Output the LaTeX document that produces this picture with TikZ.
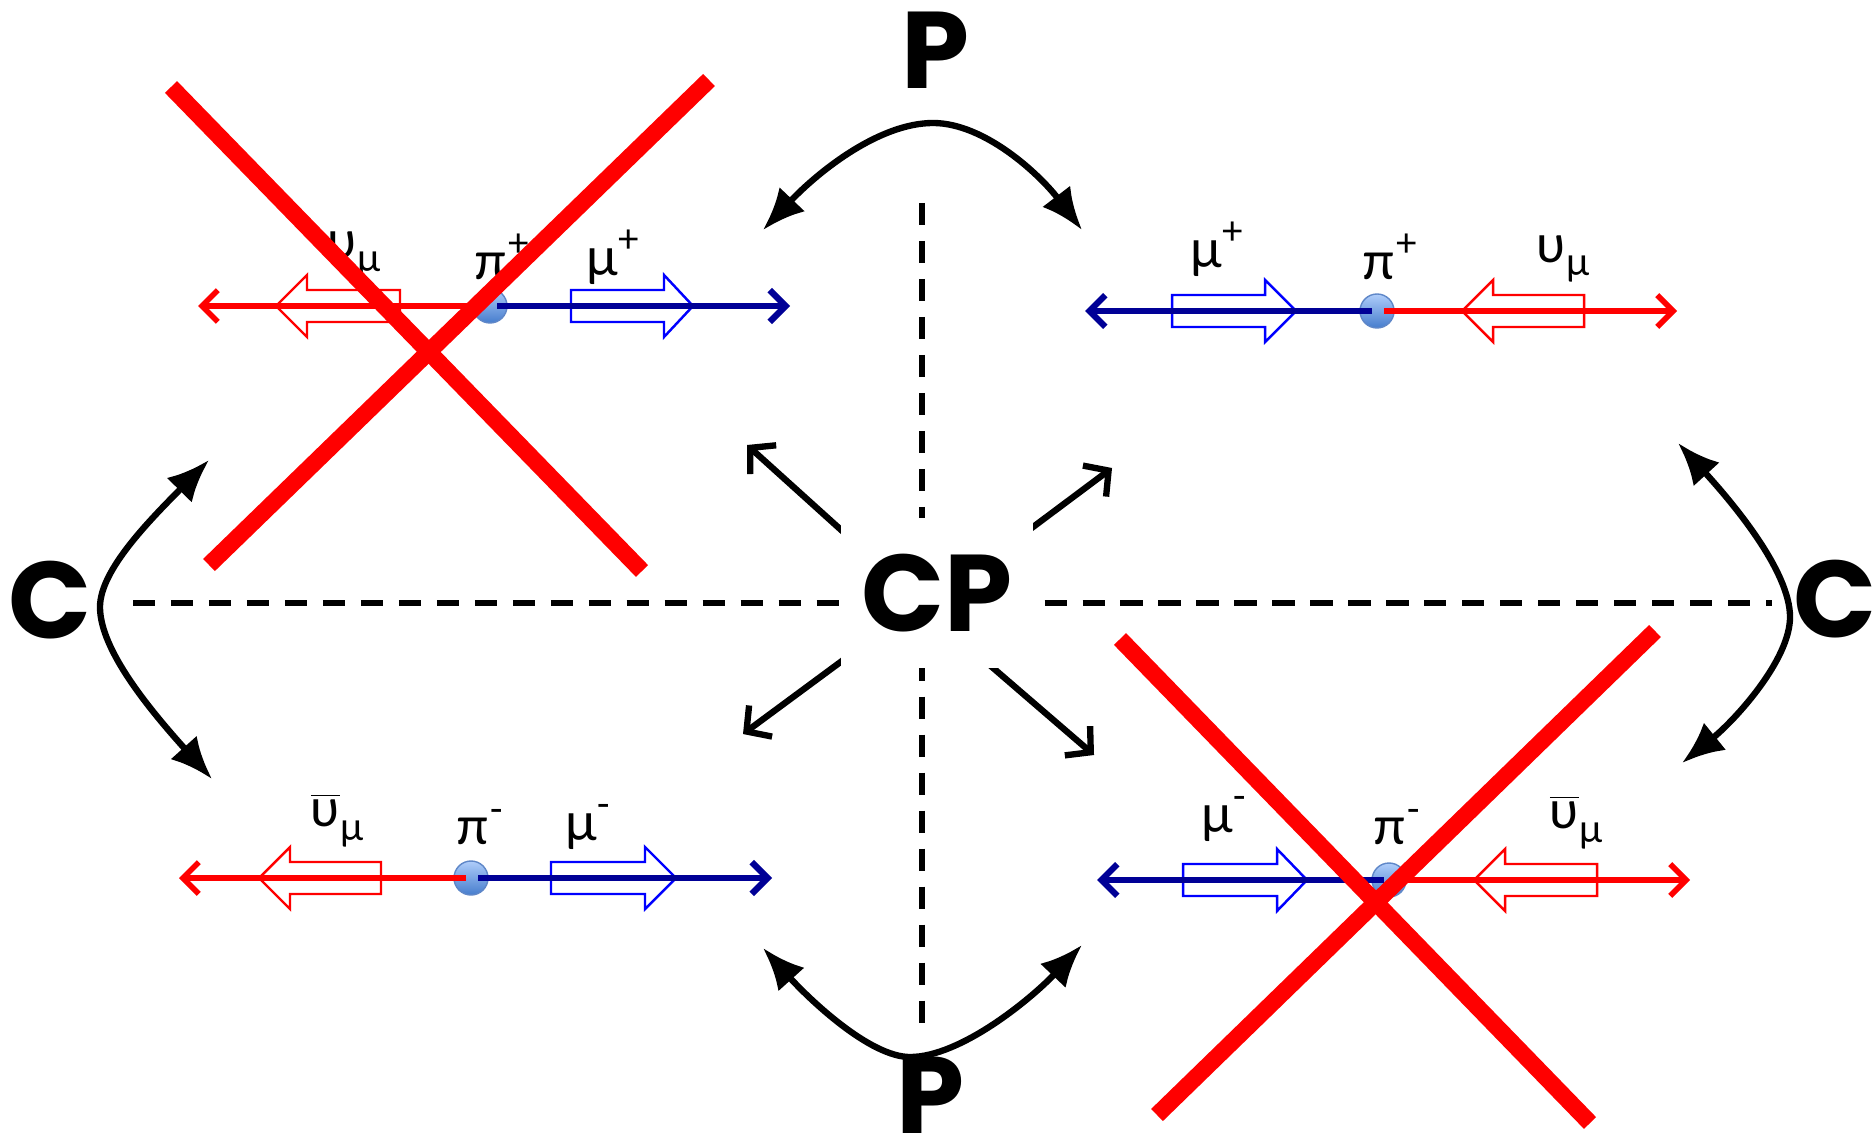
\documentclass[tikz,border=0pt]{standalone}
\usepackage{fontspec}
\usetikzlibrary{arrows.meta}
\newfontfamily\bigfont{Poppins}
\newfontfamily\labelfont{Lato}
\definecolor{navyline}{RGB}{0,0,150}
\definecolor{pionlight}{RGB}{175,205,250}
\definecolor{piondark}{RGB}{70,125,205}
\definecolor{pionedge}{RGB}{95,135,200}
\newcommand{\lowsub}[1]{\raisebox{-0.5ex}{\fontsize{11}{11}\selectfont #1}}
\newcommand{\highsup}[1]{\raisebox{0.85ex}{\fontsize{11}{11}\selectfont #1}}
\newcommand{\nubar}{$\overline{\hbox{υ}}$}
% style, tail x, head base x, tip x, y
\newcommand{\spinarrow}[5]{%
  \draw[#1] (#2,{#5-16}) -- (#3,{#5-16}) -- (#3,{#5-31}) -- (#4,#5) -- (#3,{#5+31}) -- (#3,{#5+16}) -- (#2,{#5+16}) -- cycle;}
\tikzset{
    bigletter/.style={inner sep=0pt, font=\bigfont\bfseries\fontsize{31}{32}\selectfont},
    particle/.style={inner sep=0pt, font=\labelfont\fontsize{15}{17}\selectfont},
    pion/.style={circle, minimum size=0.34cm, inner sep=0pt, top color=pionlight, bottom color=piondark, draw=pionedge, line width=0.4pt},
    redtrack/.style={draw=red, line width=1.6pt, -{Straight Barb[length=4.5pt,width=9pt]}},
    bluetrack/.style={draw=navyline, line width=1.8pt, -{Straight Barb[length=4.5pt,width=9pt]}},
    spinred/.style={draw=red, line width=0.7pt},
    spinblue/.style={draw=blue, line width=0.7pt},
    axis/.style={line width=1.8pt, dash pattern=on 6.3pt off 4.5pt},
    flip/.style={line width=1.8pt, {Latex[length=12pt,width=10pt]}-{Latex[length=12pt,width=10pt]}},
    cparrow/.style={line width=1.8pt, -{Straight Barb[length=5pt,width=11pt]}},
    veto/.style={draw=red, line width=4.8pt}
}
\begin{document}
\begin{tikzpicture}[x=0.01cm, y=-0.01cm]
    \useasboundingbox (0,0) rectangle (1874,1146);

    % symmetry axes
    \draw[axis] (133,603) -- (1772,603);
    \draw[axis] (922,203) -- (922,1025);

    % P, C and CP labels
    \node[bigletter] (ptop) at (935,50) {P};
    \node[bigletter] (pbot) at (930,1095) {P};
    \node[bigletter] (cleft) at (50,600) {C};
    \node[bigletter] (cright) at (1835,599) {C};

    % curved double arrows
    \coordinate (ptopL) at (763,230);
    \coordinate (ptopM) at (933,123);
    \coordinate (ptopR) at (1082,230);
    \draw[flip] (ptopL) .. controls (820,170) and (880,123) .. (ptopM) .. controls (985,123) and (1040,175) .. (ptopR);
    \coordinate (pbotL) at (763,948);
    \coordinate (pbotM) at (910,1057);
    \coordinate (pbotR) at (1082,945);
    \draw[flip] (pbotL) .. controls (810,1000) and (870,1057) .. (pbotM) .. controls (960,1057) and (1030,1000) .. (pbotR);
    \coordinate (cleftT) at (209,460);
    \coordinate (cleftM) at (100,607);
    \coordinate (cleftB) at (212,779);
    \draw[flip] (cleftT) .. controls (150,520) and (100,570) .. (cleftM) .. controls (100,650) and (150,710) .. (cleftB);
    \coordinate (crightT) at (1678,443);
    \coordinate (crightM) at (1790,617);
    \coordinate (crightB) at (1682,763);
    \draw[flip] (crightT) .. controls (1730,500) and (1790,570) .. (crightM) .. controls (1790,660) and (1735,720) .. (crightB);

    % CP arrows
    \coordinate (cpNWs) at (850,538);
    \coordinate (cpNW) at (747,445);
    \coordinate (cpNEs) at (1025,533);
    \coordinate (cpNE) at (1112,468);
    \coordinate (cpSWs) at (850,655);
    \coordinate (cpSW) at (743,734);
    \coordinate (cpSEs) at (985,661);
    \coordinate (cpSE) at (1094,755);
    \draw[cparrow] (cpNWs) -- (cpNW);
    \draw[cparrow] (cpNEs) -- (cpNE);
    \draw[cparrow] (cpSWs) -- (cpSW);
    \draw[cparrow] (cpSEs) -- (cpSE);
    \node[bigletter, fill=white, minimum width=1.92cm, minimum height=1.49cm] (cp) at (937,593) {CP};

    % top left: pi+ decay
    \spinarrow{spinred}{400}{307}{276}{306}
    \spinarrow{spinblue}{571}{664}{693}{306}
    \node[pion] (tlpi) at (490,306) {};
    \coordinate (tlnu) at (198,306);
    \coordinate (tlmu) at (790,306);
    \draw[redtrack] ([xshift=-0.05cm]tlpi.center) -- (tlnu);
    \draw[bluetrack] ([xshift=0.07cm]tlpi.center) -- (tlmu);
    \node[particle] (tlnulab) at (354,255) {υ\lowsub{μ}};
    \node[particle] (tlpilab) at (502,257) {π\highsup{+}};
    \node[particle] (tlmulab) at (613,257) {μ\highsup{+}};

    % top right: pi+ decay
    \spinarrow{spinblue}{1172}{1265}{1296}{311}
    \spinarrow{spinred}{1584}{1493}{1462}{311}
    \node[pion] (trpi) at (1377,311) {};
    \coordinate (trmu) at (1085,311);
    \coordinate (trnu) at (1677,311);
    \draw[bluetrack] ([xshift=-0.05cm]trpi.center) -- (trmu);
    \draw[redtrack] ([xshift=0.07cm]trpi.center) -- (trnu);
    \node[particle] (trmulab) at (1217,249) {μ\highsup{+}};
    \node[particle] (trpilab) at (1390,257) {π\highsup{+}};
    \node[particle] (trnulab) at (1563,259) {υ\lowsub{μ}};

    % bottom left: pi- decay
    \spinarrow{spinred}{381}{290}{259}{878}
    \spinarrow{spinblue}{551}{645}{676}{878}
    \node[pion] (blpi) at (471,878) {};
    \coordinate (blnu) at (179,878);
    \coordinate (blmu) at (772,878);
    \draw[redtrack] ([xshift=-0.05cm]blpi.center) -- (blnu);
    \draw[bluetrack] ([xshift=0.07cm]blpi.center) -- (blmu);
    \node[particle] (blnulab) at (337,820) {\nubar\lowsub{μ}};
    \node[particle] (blpilab) at (480,827) {π\highsup{-}};
    \node[particle] (blmulab) at (588,827) {μ\highsup{-}};

    % bottom right: pi- decay
    \spinarrow{spinblue}{1183}{1277}{1307}{880}
    \spinarrow{spinred}{1597}{1505}{1474}{880}
    \node[pion] (brpi) at (1389,880) {};
    \coordinate (brmu) at (1097,880);
    \coordinate (brnu) at (1690,880);
    \draw[bluetrack] ([xshift=-0.05cm]brpi.center) -- (brmu);
    \draw[redtrack] ([xshift=0.07cm]brpi.center) -- (brnu);
    \node[particle] (brmulab) at (1224,819) {μ\highsup{-}};
    \node[particle] (brpilab) at (1397,827) {π\highsup{-}};
    \node[particle] (brnulab) at (1576,822) {\nubar\lowsub{μ}};

    % forbidden states
    \draw[veto] (171,87) -- (642,571);
    \draw[veto] (209,565) -- (709,80);
    \draw[veto] (1120,639) -- (1590,1123);
    \draw[veto] (1157,1115) -- (1655,631);
\end{tikzpicture}
\end{document}
